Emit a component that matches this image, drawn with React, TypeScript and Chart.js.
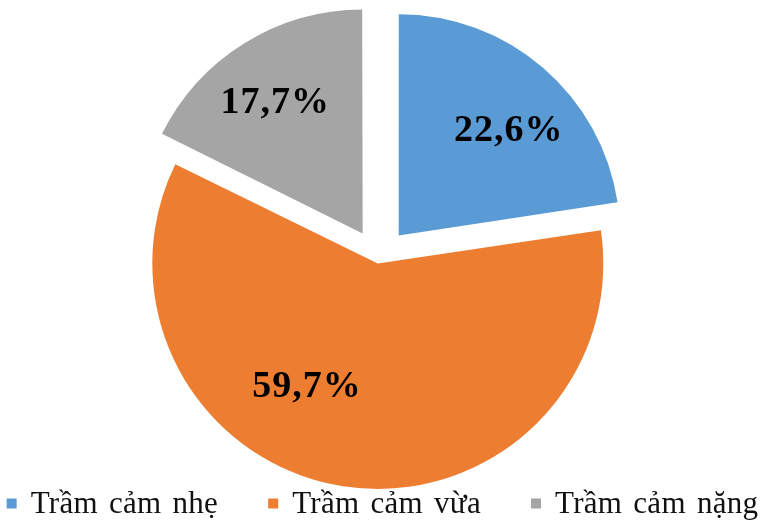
import React, { useEffect, useRef } from 'react';
import { Chart, registerables } from 'chart.js';

Chart.register(...registerables);

const CATEGORIES = ['Trầm cảm nhẹ', 'Trầm cảm vừa', 'Trầm cảm nặng'];
const PERCENTAGES = [22.6, 59.7, 17.7];
const SLICE_COLORS = ['#5B9BD5', '#ED7D31', '#A5A5A5'];

const W = 761;
const H = 522;

const fmt = (v: number) => v.toFixed(1).replace('.', ',') + '%';

export default function App() {
  const ref = useRef<HTMLCanvasElement>(null);

  useEffect(() => {
    if (!ref.current) return;

    const labelPlugin = {
      id: 'sliceLabels',
      afterDatasetsDraw(chart: any) {
        const ctx = chart.ctx;
        const meta = chart.getDatasetMeta(0);
        const tweak = [
          { a: 6, f: 0.685 },
          { a: 21, f: 0.645 },
          { a: -2, f: 0.71 },
        ];
        ctx.save();
        ctx.font = 'bold 38px "Liberation Serif"';
        (ctx as any).letterSpacing = '1px';
        ctx.fillStyle = '#000';
        ctx.textAlign = 'center';
        ctx.textBaseline = 'middle';
        meta.data.forEach((arc: any, i: number) => {
          const { x, y, startAngle, endAngle, outerRadius } = arc.getProps(
            ['x', 'y', 'startAngle', 'endAngle', 'outerRadius'],
            true
          );
          const off = (arc.options.offset || 0) / 4;
          const mid = (startAngle + endAngle) / 2;
          const cx = x + Math.cos(mid) * off;
          const cy = y + Math.sin(mid) * off;
          const a = mid + (tweak[i].a * Math.PI) / 180;
          const r = outerRadius * tweak[i].f;
          ctx.fillText(fmt(PERCENTAGES[i]), cx + Math.cos(a) * r, cy + Math.sin(a) * r);
        });
        ctx.restore();
      },
    };

    const legendPlugin = {
      id: 'bottomLegend',
      afterDraw(chart: any) {
        const ctx = chart.ctx;
        const box = 10;
        const gap = 14;
        const itemGap = 50;
        ctx.save();
        ctx.font = '31px "Liberation Serif"';
        (ctx as any).letterSpacing = '0.3px';
        (ctx as any).wordSpacing = '3px';
        ctx.textBaseline = 'middle';
        ctx.textAlign = 'left';
        const widths = CATEGORIES.map((c) => ctx.measureText(c).width);
        const itemWidths = widths.map((w) => box + gap + w);
        const total = itemWidths.reduce((s, w) => s + w, 0) + itemGap * (CATEGORIES.length - 1);
        let x = 382.5 - total / 2;
        const textY = 505;
        CATEGORIES.forEach((c, i) => {
          ctx.fillStyle = SLICE_COLORS[i];
          ctx.fillRect(x, 498.5, box, box);
          ctx.fillStyle = '#111';
          ctx.fillText(c, x + box + gap, textY);
          x += itemWidths[i] + itemGap;
        });
        ctx.restore();
      },
    };

    const chart = new Chart(ref.current, {
      type: 'pie',
      data: {
        labels: CATEGORIES,
        datasets: [
          {
            data: PERCENTAGES,
            backgroundColor: SLICE_COLORS,
            borderWidth: 0,
            offset: [124, 18, 120],
          },
        ],
      },
      options: {
        animation: false,
        responsive: false,
        maintainAspectRatio: false,
        radius: 221,
        layout: { padding: { top: 0, bottom: 4, left: 0, right: 4 } },
        plugins: {
          legend: { display: false },
          tooltip: { enabled: false },
        },
      } as any,
      plugins: [labelPlugin, legendPlugin],
    });

    return () => chart.destroy();
  }, []);

  return (
    <div
      style={{
        position: 'fixed',
        left: 0,
        top: 0,
        width: W,
        height: H,
        overflow: 'hidden',
        background: '#fff',
      }}
    >
      <canvas ref={ref} width={W} height={H} style={{ display: 'block', width: W, height: H }} />
    </div>
  );
}
